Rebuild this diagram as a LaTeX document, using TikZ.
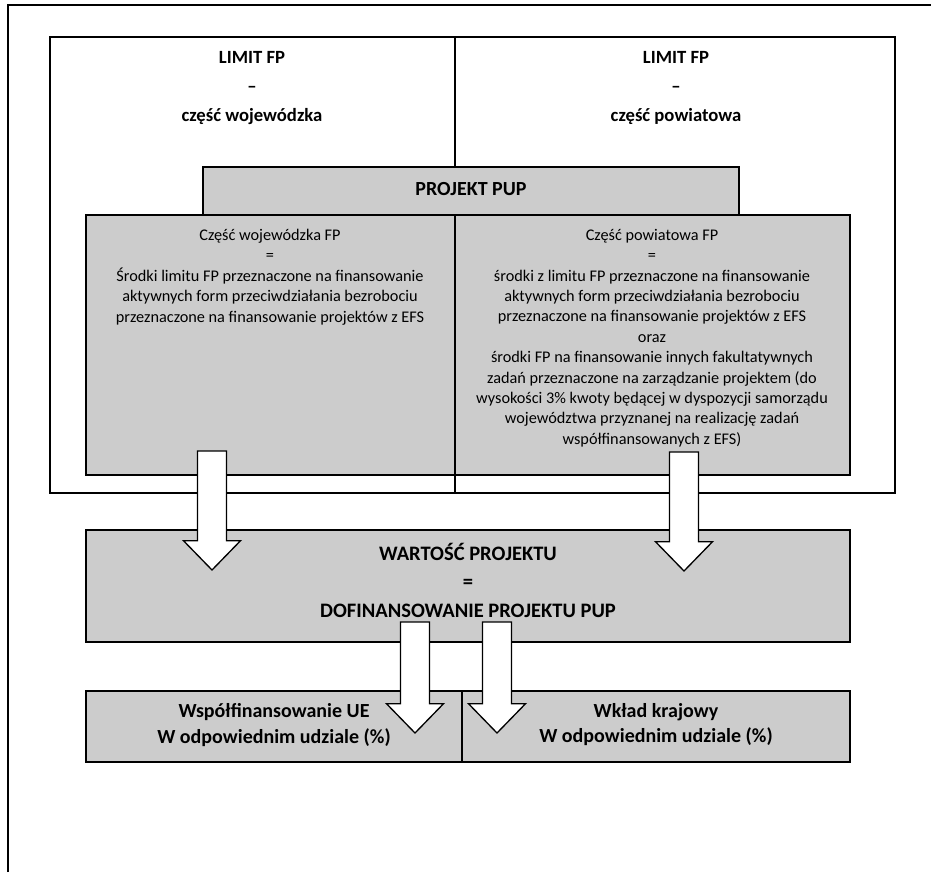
\documentclass[tikz,border=0pt]{standalone}
\usepackage{fontspec}
\setmainfont{Carlito}
\usetikzlibrary{fit,calc}
\definecolor{dither}{gray}{0.80}

% white block arrow pointing down, from #1 to its tip #2
\newcommand\blockarrow[2]{%
  \draw[flow] let \p1=(#1), \p2=(#2) in
    (\x1-10.9pt,\y1) -- (\x1+10.9pt,\y1) -- (\x1+10.9pt,\y2+22pt)
    -- (\x1+21.4pt,\y2+22pt) -- (\x2,\y2) -- (\x1-21.4pt,\y2+22pt)
    -- (\x1-10.9pt,\y2+22pt) -- cycle;}

\begin{document}
\begin{tikzpicture}[x=0.75pt,y=-0.75pt,
  limitbox/.style={draw,line width=1pt,inner sep=0pt},
  greybox/.style={limitbox,fill=dither},
  headtxt/.style={font=\fontsize{14}{22}\selectfont\bfseries,align=center,inner sep=0pt},
  bodytxt/.style={font=\fontsize{12.2}{15.3}\selectfont,align=center,inner sep=0pt},
  flow/.style={draw,line width=1pt,fill=white,line join=miter}]
\useasboundingbox (0,0) rectangle (931,872);
\draw[line width=1pt] (8,872) -- (8,5) -- (931,5);

% limit FP
\node[limitbox,fit={(50,37) (455,493)}] (limW) {};
\node[limitbox,fit={(455,37) (895,493)}] (limP) {};
\node[headtxt] (limWtxt) at (252,88) {LIMIT FP\\--\\część wojewódzka};
\node[headtxt] (limPtxt) at (676,88) {LIMIT FP\\--\\część powiatowa};

% projekt PUP
\node[greybox,fit={(203,167) (739,215)}] (pup) {};
\node[headtxt,font=\fontsize{15}{18}\selectfont\bfseries] (puptxt) at (471,189) {PROJEKT PUP};
\node[greybox,fit={(86,215) (455,475)}] (czW) {};
\node[greybox,fit={(455,215) (850,475)}] (czP) {};
\node[bodytxt] (czWtxt) at (270,277) {Część wojewódzka FP\\=\\Środki limitu FP przeznaczone na finansowanie\\aktywnych form przeciwdziałania bezrobociu\\przeznaczone na finansowanie projektów z EFS};
\node[bodytxt] (czPtxt) at (652,338) {Część powiatowa FP\\=\\środki z limitu FP przeznaczone na finansowanie\\aktywnych form przeciwdziałania bezrobociu\\przeznaczone na finansowanie projektów z EFS\\oraz\\środki FP na finansowanie innych fakultatywnych\\zadań przeznaczone na zarządzanie projektem (do\\wysokości 3\% kwoty będącej w dyspozycji samorządu\\województwa przyznanej na realizację zadań\\współfinansowanych z EFS)};

% wartosc projektu
\node[greybox,fit={(86,530) (850,642)}] (wart) {};
\node[headtxt,font=\fontsize{15.4}{21.4}\selectfont\bfseries] (warttxt) at (468,580) {WARTOŚĆ PROJEKTU\\=\\DOFINANSOWANIE PROJEKTU PUP};

% udzialy
\node[greybox,fit={(86,691) (462,762)}] (ue) {};
\node[greybox,fit={(462,691) (850,762)}] (kraj) {};
\node[headtxt,font=\fontsize{15}{18.8}\selectfont\bfseries] (uetxt) at (274,725) {Współfinansowanie UE\\W odpowiednim udziale (\%)};
\node[headtxt,font=\fontsize{15}{18.8}\selectfont\bfseries] (krajtxt) at (656,725) {Wkład krajowy\\W odpowiednim udziale (\%)};

% arrows
\coordinate (a1s) at (212,451); \coordinate (a1e) at (212,570);
\coordinate (a2s) at (684,452); \coordinate (a2e) at (684,571);
\coordinate (a3s) at (415,622); \coordinate (a3e) at (415,733);
\coordinate (a4s) at (497,622); \coordinate (a4e) at (497,733);
\blockarrow{a1s}{a1e}
\blockarrow{a2s}{a2e}
\blockarrow{a3s}{a3e}
\blockarrow{a4s}{a4e}
\end{tikzpicture}
\end{document}
